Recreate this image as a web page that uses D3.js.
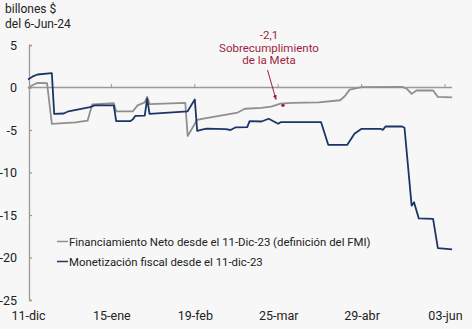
<!DOCTYPE html>
<html>
<head>
<meta charset="utf-8">
<script src="https://cdn.jsdelivr.net/npm/d3@7"></script>
<style>
  html, body { margin: 0; padding: 0; background: #f7f7f7; }
  svg { display: block; font-family: Roboto, "Noto Sans", sans-serif; }
</style>
</head>
<body>
<svg id="chart" width="472" height="329"></svg>
<script>
// Financiamiento neto (definición FMI), billones $
const financiamientoDates = ["2023-12-11","2023-12-13","2023-12-15","2023-12-19","2023-12-21","2023-12-31","2024-01-05","2024-01-06","2024-01-07","2024-01-16","2024-01-17","2024-01-24","2024-01-26","2024-01-29","2024-01-30","2024-01-31","2024-02-15","2024-02-16","2024-02-20","2024-02-22","2024-03-05","2024-03-08","2024-03-11","2024-03-18","2024-03-22","2024-03-26","2024-03-31","2024-04-11","2024-04-20","2024-04-22","2024-04-24","2024-04-27","2024-04-29","2024-05-16","2024-05-18","2024-05-20","2024-05-22","2024-05-29","2024-05-31","2024-06-06"];
const financiamientoValues = [-0.1,0.3,0.55,0.5,-4.27,-4.1,-3.9,-2.9,-2.0,-1.85,-2.8,-2.8,-2.1,-1.75,-1.1,-1.95,-1.8,-5.7,-3.8,-3.7,-3.1,-2.95,-2.5,-2.4,-2.25,-1.9,-1.8,-1.75,-1.5,-1.0,-0.25,-0.08,0.05,0.08,-0.15,-0.75,-0.35,-0.35,-1.1,-1.15];

// Monetización fiscal, billones $
const monetizacionDates = ["2023-12-11","2023-12-13","2023-12-15","2023-12-21","2023-12-22","2023-12-26","2023-12-28","2024-01-06","2024-01-08","2024-01-16","2024-01-17","2024-01-23","2024-01-24","2024-01-25","2024-01-29","2024-01-30","2024-01-31","2024-02-16","2024-02-19","2024-02-20","2024-02-22","2024-02-24","2024-03-03","2024-03-05","2024-03-07","2024-03-12","2024-03-13","2024-03-18","2024-03-21","2024-03-25","2024-03-26","2024-04-12","2024-04-15","2024-04-23","2024-04-26","2024-04-29","2024-05-07","2024-05-08","2024-05-09","2024-05-16","2024-05-17","2024-05-20","2024-05-21","2024-05-23","2024-05-29","2024-05-31","2024-06-06"];
const monetizacionValues = [0.94,1.3,1.53,1.68,-3.1,-3.06,-2.8,-2.3,-2.1,-2.1,-3.95,-3.95,-3.75,-3.35,-3.3,-1.3,-3.1,-2.8,-1.4,-5.1,-4.95,-4.85,-4.9,-5.0,-4.7,-4.67,-3.96,-4.0,-3.68,-4.27,-4.08,-4.08,-6.74,-6.74,-5.45,-4.86,-4.86,-4.98,-4.59,-4.59,-4.74,-13.9,-13.5,-15.4,-15.45,-18.9,-19.05];

const seriesNames = ["Financiamiento Neto desde el 11-Dic-23 (definición del FMI)", "Monetización fiscal desde el 11-dic-23"];
const seriesColors = ["#8f8f8f", "#1c3567"];

const xTickDates = ["2023-12-11","2024-01-15","2024-02-19","2024-03-25","2024-04-29","2024-06-03"];
const xTickLabels = ["11-dic","15-ene","19-feb","25-mar","29-abr","03-jun"];
const yTicks = [5, 0, -5, -10, -15, -20, -25];

// Nota: sobrecumplimiento de la meta
const metaDate = "2024-03-27";
const metaValue = -2.1;
const metaLabel = ["-2,1", "Sobrecumplimiento", "de la Meta"];

const parse = d3.timeParse("%Y-%m-%d");
const svg = d3.select("#chart");
const annColor = "#a01d3d";

const x = d3.scaleTime()
  .domain([parse("2023-12-11"), parse("2024-06-03")])
  .range([28, 445]);
const y = d3.scaleLinear().domain([-25, 5]).range([300, 45]);

// Título del eje
svg.append("text").attr("x", 5).attr("y", 13).attr("font-size", 12).attr("fill", "#222").text("billones $");
svg.append("text").attr("x", 5).attr("y", 27.5).attr("font-size", 12).attr("fill", "#222").text("del 6-Jun-24");

// Eje Y
const yAxis = svg.append("g").attr("transform", "translate(29,0)")
  .call(d3.axisLeft(y).tickValues(yTicks).tickSize(-3).tickPadding(12).tickFormat(d3.format("d")));
yAxis.select(".domain").attr("stroke", "#9a9a9a").attr("stroke-width", 1.3);
yAxis.selectAll(".tick line").attr("stroke", "#9a9a9a").attr("stroke-width", 1.3);
yAxis.selectAll(".tick text").attr("font-size", 12.5).attr("fill", "#222")
  .attr("font-family", "Roboto, sans-serif").text(d => d < 0 ? "-" + Math.abs(d) : d);

// Línea de cero con marcas
const xEnd = x(parse("2024-06-06"));
svg.append("line").attr("x1", 29).attr("x2", xEnd).attr("y1", y(0)).attr("y2", y(0))
  .attr("stroke", "#9a9a9a").attr("stroke-width", 1.6);
svg.selectAll(".ztick").data(xTickDates.slice(1)).enter().append("line")
  .attr("x1", d => x(parse(d))).attr("x2", d => x(parse(d)))
  .attr("y1", y(0)).attr("y2", y(0) - 3.5)
  .attr("stroke", "#9a9a9a").attr("stroke-width", 1);

// Etiquetas del eje X (abajo)
const xAxis = svg.append("g").attr("transform", "translate(0,308)")
  .call(d3.axisBottom(x).tickValues(xTickDates.map(parse)).tickSize(0).tickPadding(3)
    .tickFormat((d, i) => xTickLabels[i]));
xAxis.select(".domain").remove();
xAxis.selectAll(".tick text").attr("font-size", 12.5).attr("fill", "#222").attr("font-family", "Roboto, sans-serif");

// Series
const line = d3.line().x(d => x(d[0])).y(d => y(d[1]));
const fin = financiamientoDates.map((d, i) => [parse(d), financiamientoValues[i]]);
const mon = monetizacionDates.map((d, i) => [parse(d), monetizacionValues[i]]);

svg.append("path").datum(fin).attr("d", line).attr("fill", "none")
  .attr("stroke", seriesColors[0]).attr("stroke-width", 1.8).attr("stroke-linejoin", "round");
svg.append("path").datum(mon).attr("d", line).attr("fill", "none")
  .attr("stroke", seriesColors[1]).attr("stroke-width", 1.8).attr("stroke-linejoin", "round");

// Anotación
const ann = svg.append("g").attr("fill", annColor).attr("font-size", 11.5).attr("text-anchor", "middle");
[39, 51.5, 64].forEach((ty, i) => ann.append("text").attr("x", 269).attr("y", ty).text(metaLabel[i]));
svg.append("defs").append("marker").attr("id", "arrow").attr("viewBox", "0 0 10 10")
  .attr("refX", 9).attr("refY", 5).attr("markerWidth", 5).attr("markerHeight", 5).attr("orient", "auto")
  .append("path").attr("d", "M0,1 L10,5 L0,9 Z").attr("fill", annColor);
svg.append("line").attr("x1", 267.5).attr("y1", 70).attr("x2", 276).attr("y2", 99.5)
  .attr("stroke", annColor).attr("stroke-width", 1).attr("marker-end", "url(#arrow)");
svg.append("circle").attr("cx", x(parse(metaDate))).attr("cy", y(metaValue)).attr("r", 1.7).attr("fill", annColor);

// Leyenda
const legend = svg.append("g");
seriesNames.forEach((name, i) => {
  const ly = 241.5 + i * 20;
  legend.append("line").attr("x1", 57).attr("x2", 68).attr("y1", ly).attr("y2", ly)
    .attr("stroke", seriesColors[i]).attr("stroke-width", 1.5);
  legend.append("text").attr("x", 69).attr("y", ly + 4.5).attr("font-size", 11.4).attr("fill", "#222").text(name);
});
</script>
</body>
</html>
